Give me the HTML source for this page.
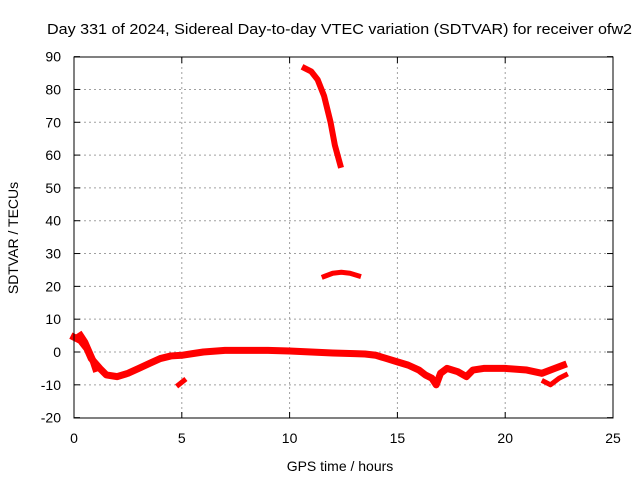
<!DOCTYPE html>
<html><head><meta charset="utf-8"><style>
body{margin:0;background:#fff}
svg text{font-family:"Liberation Sans",sans-serif;font-size:14px;fill:#000}
</style></head><body>
<svg width="640" height="480" xmlns="http://www.w3.org/2000/svg">
<g id="grid"></g>
<g id="series"></g>
<rect x="74" y="57" width="539" height="361" fill="none" stroke="#000"/>
<g id="ticks"></g>
<text x="47" y="34" textLength="585" lengthAdjust="spacingAndGlyphs" style="font-size:15px">Day 331 of 2024, Sidereal Day-to-day VTEC variation (SDTVAR) for receiver ofw2</text>
<text x="340" y="471" text-anchor="middle">GPS time / hours</text>
<text transform="translate(18,238) rotate(-90)" text-anchor="middle">SDTVAR / TECUs</text>
</svg>
<script>
const xTicks=[0,5,10,15,20,25];
const yTicks=[-20,-10,0,10,20,30,40,50,60,70,80,90];
const mainHours=[0.0,0.3,0.6,0.8,1.2,1.5,2,2.5,3,3.5,4,4.5,5,5.5,6,7,8,9,10,11,12,13,13.5,14,14.5,15,15.5,16,16.3,16.6,16.8,17.0,17.3,17.8,18.2,18.5,19,20,21,21.7,22.3,22.7];
const mainVals=[4.5,3.5,1,-2,-5,-7,-7.5,-6.5,-5,-3.5,-2,-1.2,-1,-0.5,0,0.5,0.5,0.5,0.3,0,-0.3,-0.5,-0.6,-1,-2,-3,-4,-5.5,-7,-8,-10,-6.5,-5,-6,-7.5,-5.5,-5,-5,-5.5,-6.5,-5,-4];
const startHours=[0.3,0.5,0.7,0.9,1.0];
const startVals=[5,3,0,-3,-5];
const branchHours=[21.8,22.1,22.5,22.8];
const branchVals=[-9,-10,-8,-7];
const smallHours=[4.85,5.1];
const smallVals=[-10,-8.7];
const upperHours=[10.7,11.0,11.3,11.6,11.9,12.1,12.35];
const upperVals=[86.5,85.5,83,78,70,63,57];
const arcHours=[11.6,12.0,12.4,12.8,13.2];
const arcVals=[23,24,24.3,24,23.2];
const X=h=>74+h*539/25, Y=v=>352-v*361/110;
const ns="http://www.w3.org/2000/svg";
const grid=document.getElementById('grid'),ticks=document.getElementById('ticks'),ser=document.getElementById('series');
function mk(tag,attrs,parent){const e=document.createElementNS(ns,tag);for(const k in attrs)e.setAttribute(k,attrs[k]);parent.appendChild(e);return e;}
xTicks.forEach(t=>{
 if(t>0&&t<25){const l=mk('line',{x1:X(t),x2:X(t),y1:57,y2:418,stroke:'#a0a0a0','stroke-dasharray':'2,3'},grid);
 
 }
 const tk=mk('text',{x:X(t),y:443,'text-anchor':'middle'},ticks);tk.textContent=t;
 
 
 mk('line',{x1:X(t),x2:X(t),y1:418,y2:412,stroke:'#000'},ticks);
 mk('line',{x1:X(t),x2:X(t),y1:57,y2:63,stroke:'#000'},ticks);
});
yTicks.forEach(t=>{
 if(t>-20&&t<90){const l=mk('line',{x1:74,x2:613,y1:Y(t),y2:Y(t),stroke:'#a0a0a0','stroke-dasharray':'2,3'},grid);
 
 }
 const tk=mk('text',{x:61,y:Y(t)+5,'text-anchor':'end'},ticks);tk.textContent=t;
 
 
 mk('line',{x1:74,x2:80,y1:Y(t),y2:Y(t),stroke:'#000'},ticks);
 mk('line',{x1:613,x2:607,y1:Y(t),y2:Y(t),stroke:'#000'},ticks);
});
function draw(hs,vs,name,w){
 const p=mk('polyline',{points:hs.map((h,i)=>X(h)+','+Y(vs[i])).join(' '),fill:'none',stroke:'#f00','stroke-width':w,'stroke-linejoin':'round','stroke-linecap':'square'},ser);
 
 
}
draw(mainHours,mainVals,'main-trace',7);
draw(startHours,startVals,'start-trace',7);
draw(branchHours,branchVals,'branch-trace',5);
draw(smallHours,smallVals,'small-trace',5);
draw(upperHours,upperVals,'upper-trace',6);
draw(arcHours,arcVals,'arc-trace',5);
</script>
</body></html>
